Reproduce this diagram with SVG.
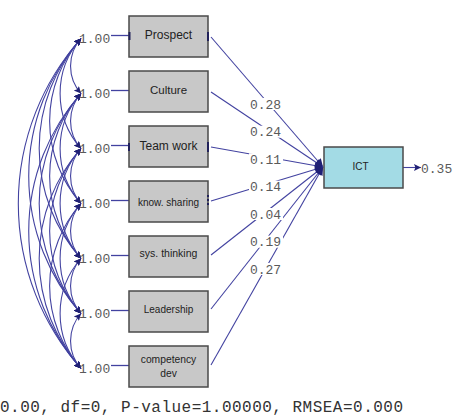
<svg xmlns="http://www.w3.org/2000/svg" width="453" height="416" viewBox="0 0 453 416">
<style>
.box{fill:#c8c8c8;stroke:#4a4a4a;stroke-width:1.5}
.ict{fill:#a3dbe5;stroke:#4a4a4a;stroke-width:1.5}
.lbl{font-family:"Liberation Sans",Arial,sans-serif;fill:#222;text-anchor:middle}
.num{font-family:"Liberation Mono","Courier New",monospace;font-size:13px;fill:#5a5a5a}
.path{stroke:#4242a0;stroke-width:1.1;fill:none;marker-end:url(#ahb)}
.cov{stroke:#4242a0;stroke-width:1.1;fill:none;marker-start:url(#ah);marker-end:url(#ah)}
.stub{stroke:#4242a0;stroke-width:1.3}
.tick{stroke:#22225a;stroke-width:2}
.bg{fill:#fff}
</style>
<defs>
<marker id="ah" viewBox="0 0 10 10" refX="10" refY="5" markerWidth="10" markerHeight="7" markerUnits="userSpaceOnUse" orient="auto-start-reverse">
<path d="M0,0 L10,5 L0,10 L2,5 z" fill="#202075"/>
</marker>
<marker id="ahb" viewBox="0 0 10 10" refX="10" refY="5" markerWidth="12" markerHeight="8" markerUnits="userSpaceOnUse" orient="auto">
<path d="M0,0 L10,5 L0,10 z" fill="#202075"/>
</marker>
</defs>
<rect width="453" height="416" fill="#fff"/>

<g id="connectors">
<path class="cov" d="M81,38.5 A41.4,41.4 0 0 0 81,93.5"/>
<path class="cov" d="M81,38.5 A82.8,82.8 0 0 0 81,148.5"/>
<path class="cov" d="M81,38.5 A124.2,124.2 0 0 0 81,203.5"/>
<path class="cov" d="M81,38.5 A165.6,165.6 0 0 0 81,258.5"/>
<path class="cov" d="M81,38.5 A207,207 0 0 0 81,313.5"/>
<path class="cov" d="M81,38.5 A248.5,248.5 0 0 0 81,368.5"/>
<path class="cov" d="M81,93.5 A41.4,41.4 0 0 0 81,148.5"/>
<path class="cov" d="M81,93.5 A82.8,82.8 0 0 0 81,203.5"/>
<path class="cov" d="M81,93.5 A124.2,124.2 0 0 0 81,258.5"/>
<path class="cov" d="M81,93.5 A165.6,165.6 0 0 0 81,313.5"/>
<path class="cov" d="M81,93.5 A207,207 0 0 0 81,368.5"/>
<path class="cov" d="M81,148.5 A41.4,41.4 0 0 0 81,203.5"/>
<path class="cov" d="M81,148.5 A82.8,82.8 0 0 0 81,258.5"/>
<path class="cov" d="M81,148.5 A124.2,124.2 0 0 0 81,313.5"/>
<path class="cov" d="M81,148.5 A165.6,165.6 0 0 0 81,368.5"/>
<path class="cov" d="M81,203.5 A41.4,41.4 0 0 0 81,258.5"/>
<path class="cov" d="M81,203.5 A82.8,82.8 0 0 0 81,313.5"/>
<path class="cov" d="M81,203.5 A124.2,124.2 0 0 0 81,368.5"/>
<path class="cov" d="M81,258.5 A41.4,41.4 0 0 0 81,313.5"/>
<path class="cov" d="M81,258.5 A82.8,82.8 0 0 0 81,368.5"/>
<path class="cov" d="M81,313.5 A41.4,41.4 0 0 0 81,368.5"/>

<line class="stub" x1="111" y1="35.5" x2="129" y2="35.5"/>
<line class="stub" x1="111" y1="90.5" x2="129" y2="90.5"/>
<line class="stub" x1="111" y1="145.5" x2="129" y2="145.5"/>
<line class="stub" x1="111" y1="200.5" x2="129" y2="200.5"/>
<line class="stub" x1="111" y1="255.5" x2="129" y2="255.5"/>
<line class="stub" x1="111" y1="310.5" x2="129" y2="310.5"/>
<line class="stub" x1="111" y1="365.5" x2="129" y2="365.5"/>

<line class="path" x1="211" y1="37" x2="323" y2="167"/>
<line class="path" x1="211" y1="92" x2="323" y2="167"/>
<line class="path" x1="211" y1="147" x2="323" y2="167"/>
<line class="path" x1="211" y1="201" x2="323" y2="167"/>
<line class="path" x1="211" y1="255" x2="323" y2="167"/>
<line class="path" x1="211" y1="309" x2="323" y2="167"/>
<line class="path" x1="211" y1="365" x2="323" y2="167"/>
<line class="path" x1="403" y1="167.5" x2="421" y2="167.5" style="marker-end:url(#ah)"/>

<rect class="bg" x="249" y="98" width="34" height="12"/>
<rect class="bg" x="249" y="125.7" width="34" height="12"/>
<rect class="bg" x="249" y="153.3" width="34" height="12"/>
<rect class="bg" x="249" y="180.7" width="34" height="12"/>
<rect class="bg" x="249" y="208" width="34" height="12"/>
<rect class="bg" x="249" y="235.7" width="34" height="12"/>
<rect class="bg" x="249" y="263" width="34" height="12"/>
<text class="num" x="265.5" y="108.5" text-anchor="middle">0.28</text>
<text class="num" x="265.5" y="136" text-anchor="middle">0.24</text>
<text class="num" x="265.5" y="163.5" text-anchor="middle">0.11</text>
<text class="num" x="265.5" y="191" text-anchor="middle">0.14</text>
<text class="num" x="265.5" y="218.5" text-anchor="middle">0.04</text>
<text class="num" x="265.5" y="246" text-anchor="middle">0.19</text>
<text class="num" x="265.5" y="273.5" text-anchor="middle">0.27</text>
</g>

<g id="var-labels">
<text class="num" x="79" y="42.5">1.00</text>
<text class="num" x="79" y="97.5">1.00</text>
<text class="num" x="79" y="152.5">1.00</text>
<text class="num" x="79" y="207.5">1.00</text>
<text class="num" x="79" y="262.5">1.00</text>
<text class="num" x="79" y="317.5">1.00</text>
<text class="num" x="79" y="372.5">1.00</text>
</g>

<g id="prospect">
<rect class="box" x="129" y="16" width="79" height="41"/>
<text class="lbl" x="168.5" y="38.5" font-size="12">Prospect</text>
<line class="tick" x1="129.5" y1="32" x2="129.5" y2="40"/>
<line class="tick" x1="208" y1="32" x2="208" y2="41"/>
</g>
<g id="culture">
<rect class="box" x="129" y="71" width="79" height="41"/>
<text class="lbl" x="168.5" y="93.5" font-size="11.5">Culture</text>
</g>
<g id="teamwork">
<rect class="box" x="129" y="126" width="79" height="41"/>
<text class="lbl" x="168.5" y="150" font-size="12">Team work</text>
<line class="tick" x1="129" y1="143" x2="129" y2="151"/>
<line class="tick" x1="208" y1="142" x2="208" y2="152"/>
</g>
<g id="knowsharing">
<rect class="box" x="129" y="181" width="79" height="41"/>
<text class="lbl" x="168.5" y="206" font-size="10">know. sharing</text>
<line class="tick" x1="208" y1="195" x2="208" y2="207" stroke-dasharray="2,2"/>
</g>
<g id="systhinking">
<rect class="box" x="129" y="236" width="79" height="41"/>
<text class="lbl" x="168.5" y="256.5" font-size="10.5">sys. thinking</text>
</g>
<g id="leadership">
<rect class="box" x="129" y="291" width="79" height="41"/>
<text class="lbl" x="168.5" y="313" font-size="10">Leadership</text>
</g>
<g id="competency">
<rect class="box" x="129" y="346" width="79" height="41"/>
<text class="lbl" x="168.5" y="362.5" font-size="10.3">competency</text>
<text class="lbl" x="168.5" y="376.5" font-size="10.3">dev</text>
</g>
<g id="ict">
<rect class="ict" x="324" y="147" width="79" height="41"/>
<text class="lbl" x="360.5" y="170" font-size="10">ICT</text>
<text class="num" x="421" y="172.5">0.35</text>
</g>

<text x="0" y="412" font-family="'Liberation Mono','Courier New',monospace" font-size="16" fill="#333" textLength="403" lengthAdjust="spacing">0.00, df=0, P-value=1.00000, RMSEA=0.000</text>
</svg>
